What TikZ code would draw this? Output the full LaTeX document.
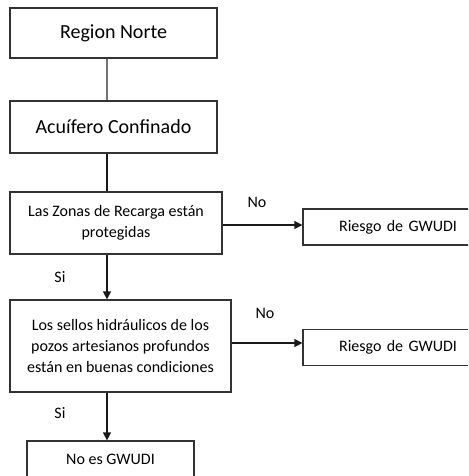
\documentclass[tikz,border=0pt]{standalone}
\usepackage{fontspec}
\setmainfont{Carlito}
\usetikzlibrary{arrows.meta, positioning, calc}

\begin{document}
\begin{tikzpicture}[x=1pt, y=-1pt,
    box/.style={draw=black!80, line width=1.2pt, fill=white, align=center, inner sep=0pt},
    big/.style={font=\fontsize{20}{24}\selectfont},
    small/.style={font=\fontsize{16}{20.5}\selectfont},
    flow/.style={line width=1.2pt, draw=black!90, -{Triangle[length=8pt,width=8pt]}}]
    \useasboundingbox (0,0) rectangle (468,476);
    \clip (0,0) rectangle (468,476);

    % Region and aquifer
    \node[box, big, minimum width=207pt, minimum height=50pt] (region) at (113.5,33) {Region Norte};
    \node[box, big, minimum width=207pt, minimum height=52pt] (acuifero) at (113.5,127) {Acuífero Confinado};

    % Questions
    \node[box, small, minimum width=212pt, minimum height=62pt] (recarga) at (116,223) {Las Zonas de Recarga están\\protegidas};
    \node[box, small, minimum width=221pt, minimum height=92pt] (sellos) at (120.5,346) {Los sellos hidráulicos de los\\pozos artesianos profundos\\están en buenas condiciones};

    % Results
    \node[box, small, minimum width=190pt, minimum height=36pt, text width=170pt] (riesgoA) at (398,227) {Riesgo de GWUDI};
    \node[box, small, minimum width=190pt, minimum height=36pt, text width=170pt] (riesgoB) at (398,347.5) {Riesgo de GWUDI};
    \node[box, small, minimum width=167pt, minimum height=50pt] (nogwudi) at (110.5,466) {};
    \node[small] (nogwudiText) at (110.5,459) {No es GWUDI};

    % Connectors
    \coordinate (spine) at (107,0);
    \draw[line width=1.2pt, draw=black!55] (region.south -| spine) -- (acuifero.north -| spine);
    \draw[line width=1.2pt, draw=black!90] (acuifero.south -| spine) -- (recarga.north -| spine);
    \draw[flow] (recarga.south -| spine) -- (sellos.north -| spine);
    \draw[flow] (sellos.south -| spine) -- (nogwudi.north -| spine);
    \draw[flow] ($(recarga.east)+(0,2)$) -- ($(recarga.east -| riesgoA.west)+(0,2)$);
    \draw[flow] ($(sellos.east)+(0,-3)$) -- ($(sellos.east -| riesgoB.west)+(0,-3)$);

    % Answers
    \node[small] (noA) at (257,202) {No};
    \node[small] (noB) at (265,313) {No};
    \node[small] (siA) at (60,277) {Si};
    \node[small] (siB) at (60,413) {Si};
\end{tikzpicture}
\end{document}
